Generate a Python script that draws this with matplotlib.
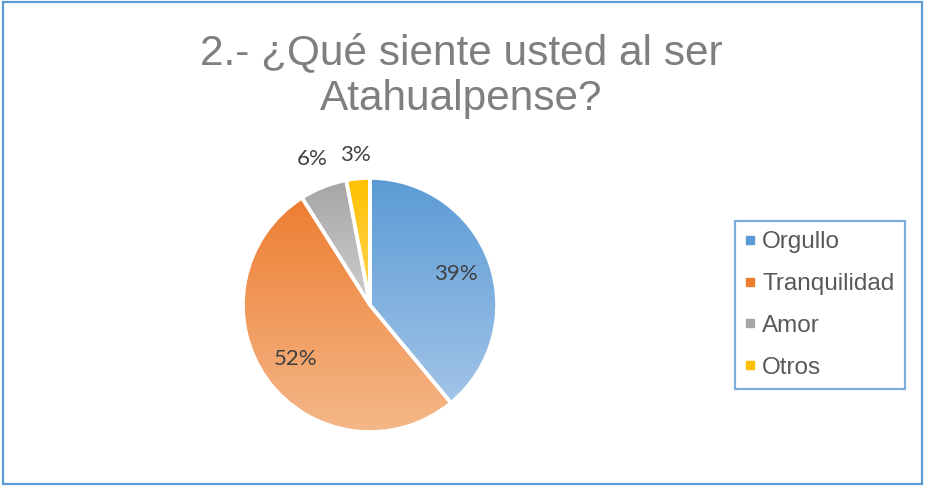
import numpy as np
import matplotlib
matplotlib.use("Agg")
import matplotlib.pyplot as plt
from matplotlib.colors import LinearSegmentedColormap
from matplotlib.lines import Line2D
from matplotlib.patches import Rectangle

labels = ["Orgullo", "Tranquilidad", "Amor", "Otros"]
values = [39, 52, 6, 3]
pct_text = ["39%", "52%", "6%", "3%"]
# top (dark) / bottom (light) gradient colours per slice
top_cols = ["#5B9BD5", "#ED7D31", "#A5A5A5", "#FFC000"]
bot_cols = ["#A2C4E8", "#F5B88A", "#CFCFCF", "#FFD65C"]

W, H = 925, 486
fig = plt.figure(figsize=(W / 100, H / 100), dpi=100)

# chart frame
fig.patches.append(Rectangle((3 / W, 2 / H), 919 / W, 482 / H, transform=fig.transFigure,
                             fill=False, ec="#5B9BD5", lw=1.6))

fig.text(461 / W, 1 - 53 / H, "2.- ¿Qué siente usted al ser", ha="center", va="center",
         fontsize=30.5, color="#7F7F7F", family="Liberation Sans")
fig.text(461 / W, 1 - 99 / H, "Atahualpense?", ha="center", va="center",
         fontsize=30.5, color="#7F7F7F", family="Liberation Sans")

cx, cy, r = 370, 305, 127
ax = fig.add_axes([(cx - r) / W, (H - cy - r) / H, 2 * r / W, 2 * r / H])
wedges, _ = ax.pie(values, startangle=90, counterclock=False, radius=1,
                   wedgeprops=dict(fc="none", ec="white", lw=2.6))
ax.set_aspect("equal"); ax.axis("off")

grad = np.linspace(0, 1, 256).reshape(-1, 1)
for w, c0, c1 in zip(wedges, top_cols, bot_cols):
    w.set_zorder(3)
    pts = w.get_patch_transform().transform(w.get_path().vertices)
    x0, x1 = pts[:, 0].min(), pts[:, 0].max()
    y0, y1 = pts[:, 1].min(), pts[:, 1].max()
    cmap = LinearSegmentedColormap.from_list("g", [c0, c1])
    im = ax.imshow(grad, cmap=cmap, extent=(x0, x1, y0, y1), origin="upper",
                   aspect="auto", zorder=2)
    im.set_clip_path(w)
ax.set_xlim(-1, 1); ax.set_ylim(-1, 1)

dists = [0.72, 0.72, 1.24, 1.19]
for w, t, d in zip(wedges, pct_text, dists):
    ang = np.deg2rad((w.theta1 + w.theta2) / 2)
    ax.text(d * np.cos(ang), d * np.sin(ang), t, ha="center", va="center",
            fontsize=16, color="#404040", family="Lato", zorder=5, clip_on=False)

handles = [Line2D([], [], marker="s", ls="none", ms=6, mfc=c, mec=c) for c in top_cols]
leg = fig.legend(handles, labels, loc="center left", bbox_to_anchor=(735 / W, 1 - 305 / H),
                 frameon=True, fancybox=False, handlelength=0.4,
                 handletextpad=0.3, labelspacing=0.82, borderpad=0.42, borderaxespad=0,
                 prop=dict(family="Liberation Sans", size=17.5))
for t in leg.get_texts():
    t.set_color("#595959")
leg.get_frame().set_edgecolor("#5B9BD5")
leg.get_frame().set_linewidth(1.6)

fig.savefig("out.png", dpi=100)
